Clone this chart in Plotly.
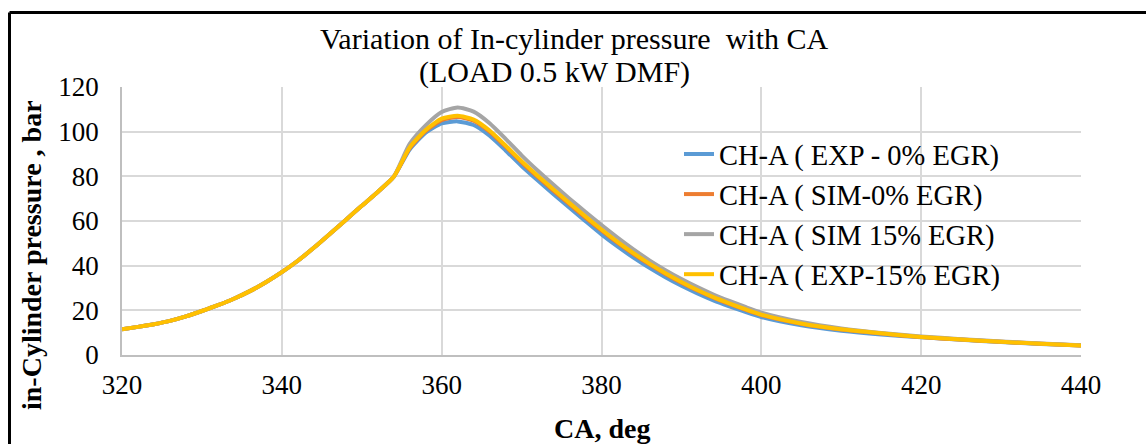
import plotly.graph_objects as go

# ---------------- data ----------------
ca = [320, 322, 324, 326, 328, 330, 332, 334, 336, 338, 340, 342, 344, 346, 348, 350, 352, 354,
      356, 358, 360, 362, 364, 366, 368, 370, 372, 374, 376, 378, 380, 382, 384, 386, 388, 390,
      392, 394, 396, 398, 400, 405, 410, 415, 420, 425, 430, 435, 440]

compression = [11.5, 12.6, 13.8, 15.3, 17.3, 19.7, 22.3, 25.2, 28.6, 32.6, 37.1, 42.2, 48.0,
               54.2, 60.5, 66.8, 73.0, 79.8]

exp_0 = compression + [92.0, 99.5, 103.7, 104.6, 103.0, 98.2, 91.6, 84.6, 78.2, 72.0, 65.9, 59.9,
                       54.0, 48.6, 43.6, 39.0, 34.8, 31.0, 27.6, 24.5, 21.8, 19.3, 17.0,
                       13.3, 10.9, 9.2, 7.9, 6.8, 5.8, 4.9, 4.2]

sim_0 = compression + [92.6, 100.3, 105.2, 106.6, 104.9, 100.0, 93.3, 86.3, 79.8, 73.6, 67.5, 61.5,
                       55.8, 50.3, 45.2, 40.6, 36.3, 32.4, 28.9, 25.7, 22.9, 20.3, 17.9,
                       14.0, 11.4, 9.6, 8.0, 6.9, 5.9, 5.0, 4.3]

sim_15 = compression + [94.5, 102.8, 108.8, 110.8, 109.0, 103.8, 96.8, 89.4, 82.6, 76.2, 70.0, 64.0,
                        58.2, 52.6, 47.3, 42.4, 38.0, 34.0, 30.4, 27.1, 24.2, 21.5, 19.0,
                        14.8, 11.9, 9.9, 8.3, 7.1, 6.1, 5.2, 4.4]

exp_15 = compression + [93.0, 100.8, 105.8, 107.1, 105.4, 100.5, 93.8, 86.8, 80.3, 74.1, 68.0, 62.0,
                        56.2, 50.7, 45.6, 40.9, 36.6, 32.7, 29.1, 25.9, 23.1, 20.5, 18.1,
                        14.1, 11.5, 9.7, 8.1, 6.9, 5.9, 5.0, 4.3]

series_names = ["CH-A ( EXP - 0% EGR)", "CH-A ( SIM-0% EGR)",
                "CH-A ( SIM 15% EGR)", "CH-A ( EXP-15% EGR)"]
series_values = [exp_0, sim_0, sim_15, exp_15]
series_colors = ["#5B9BD5", "#ED7D31", "#A5A5A5", "#FFC000"]

x_ticks = [320, 340, 360, 380, 400, 420, 440]
y_ticks = [0, 20, 40, 60, 80, 100, 120]

FONT = "Liberation Serif, Times New Roman, serif"

fig = go.Figure()
for name, vals, col in zip(series_names, series_values, series_colors):
    fig.add_trace(go.Scatter(x=ca, y=vals, name=name, mode="lines",
                             line=dict(color=col, width=4, shape="spline", smoothing=0.6)))

W, H = 1146, 444
L, R, T, B = 122, 65, 87, 89
pw, ph = W - L - R, H - T - B

def px2x(px):
    return (px - L) / pw

def py2y(py):
    return (H - B - py) / ph

fig.update_layout(
    width=W, height=H, autosize=False,
    margin=dict(l=L, r=R, t=T, b=B, pad=0),
    paper_bgcolor="white", plot_bgcolor="white",
    font=dict(family=FONT, color="black", size=27),
    showlegend=True,
    legend=dict(x=px2x(679), y=py2y(129), xanchor="left", yanchor="top",
                bgcolor="rgba(0,0,0,0)", font=dict(family=FONT, size=28.5, color="black"),
                tracegroupgap=0),
    xaxis=dict(range=[320, 440], tickvals=x_ticks, ticktext=[str(v) for v in x_ticks],
               showgrid=True, gridcolor="#D9D9D9", gridwidth=1.5,
               showline=True, linecolor="#BFBFBF", linewidth=1.5,
               zeroline=False, ticks="", ticklabelstandoff=5,
               tickfont=dict(family=FONT, size=27, color="black")),
    yaxis=dict(range=[0, 120], tickvals=y_ticks, ticktext=[str(v) for v in y_ticks],
               showgrid=True, gridcolor="#D9D9D9", gridwidth=1.5,
               showline=True, linecolor="#BFBFBF", linewidth=1.5,
               zeroline=False, ticks="", ticklabelstandoff=16,
               tickfont=dict(family=FONT, size=27, color="black")),
)

annotations = [
    dict(text="Variation of In-cylinder pressure \u00a0with CA", x=px2x(574), y=py2y(38),
         font=dict(family=FONT, size=30, color="black")),
    dict(text="(LOAD 0.5 kW DMF)", x=px2x(554), y=py2y(72),
         font=dict(family=FONT, size=30, color="black")),
    dict(text="<b>CA, deg</b>", x=px2x(602), y=py2y(428),
         font=dict(family=FONT, size=28, color="black")),
    dict(text="<b>in-Cylinder pressure , bar</b>", x=px2x(31), y=py2y(255), textangle=-90,
         font=dict(family=FONT, size=28, color="black")),
]
for a in annotations:
    a.update(xref="paper", yref="paper", xanchor="center", yanchor="middle", showarrow=False)
fig.update_layout(annotations=annotations)

# outer chart frame (top and left edges visible)
fig.add_shape(type="line", xref="paper", yref="paper",
              x0=px2x(9.5), x1=px2x(1160), y0=py2y(12.5), y1=py2y(12.5),
              line=dict(color="black", width=3))
fig.add_shape(type="line", xref="paper", yref="paper",
              x0=px2x(9.5), x1=px2x(9.5), y0=py2y(12.5), y1=py2y(460),
              line=dict(color="black", width=3))

fig.write_html("out.html", config={"displayModeBar": False},
               post_script="document.body.style.margin='0';document.body.style.overflow='hidden';")
